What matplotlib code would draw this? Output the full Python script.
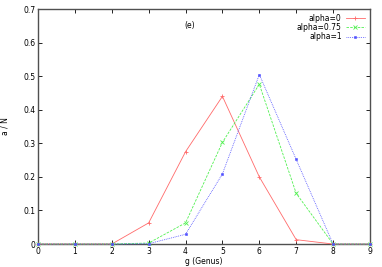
import numpy as np
import matplotlib.pyplot as plt

genus = [0, 1, 2, 3, 4, 5, 6, 7, 8, 9]
alpha0 = [0, 0, 0, 0.063, 0.275, 0.44, 0.2, 0.013, 0, 0]
alpha075 = [0, 0, 0, 0.003, 0.063, 0.303, 0.476, 0.151, 0, 0]
alpha1 = [0, 0, 0, 0.001, 0.029, 0.209, 0.505, 0.252, 0, 0]

fig = plt.figure(figsize=(3.82, 2.67), dpi=100)
ax = fig.add_axes([0.0995, 0.086, 0.869, 0.88])

ax.plot(genus, alpha0, color='#ff6a6a', lw=0.6, ls='-', marker='+', ms=2.6, mew=0.6,
        label='alpha=0', clip_on=False, zorder=3)
ax.plot(genus, alpha075, color='#50f050', lw=0.6, ls=(0, (3, 1.5)), marker='x', ms=2.4, mew=0.6,
        label='alpha=0.75', clip_on=False, zorder=3)
ax.plot(genus, alpha1, color='#5050ff', lw=0.6, ls=(0, (1, 1.2)), marker='s', ms=1.8, mew=0.4,
        label='alpha=1', clip_on=False, zorder=3)

ax.set_xlim(0, 9)
ax.set_ylim(0, 0.7)
ax.set_xticks(range(10))
ax.set_yticks([0, 0.1, 0.2, 0.3, 0.4, 0.5, 0.6, 0.7])
ax.set_yticklabels(['0', '0.1', '0.2', '0.3', '0.4', '0.5', '0.6', '0.7'])
ax.tick_params(direction='in', length=3, width=0.6, labelsize=5.5, top=True, right=True, pad=2)
for s in ax.spines.values():
    s.set_color('#505050')
    s.set_linewidth(1.0)

ax.set_xlabel('g (Genus)', fontsize=5.5, labelpad=1)
ax.set_ylabel('a / N', fontsize=5.5)
ax.yaxis.set_label_coords(-0.085, 0.5)
ax.text(4.1, 0.652, '(e)', fontsize=5.5, ha='center', va='center')

ax.legend(loc='upper right', frameon=False, fontsize=5.5, markerfirst=False,
          handlelength=2.6, labelspacing=0.05, borderaxespad=0.2, handletextpad=0.5)

fig.savefig('out.png', dpi=100)
